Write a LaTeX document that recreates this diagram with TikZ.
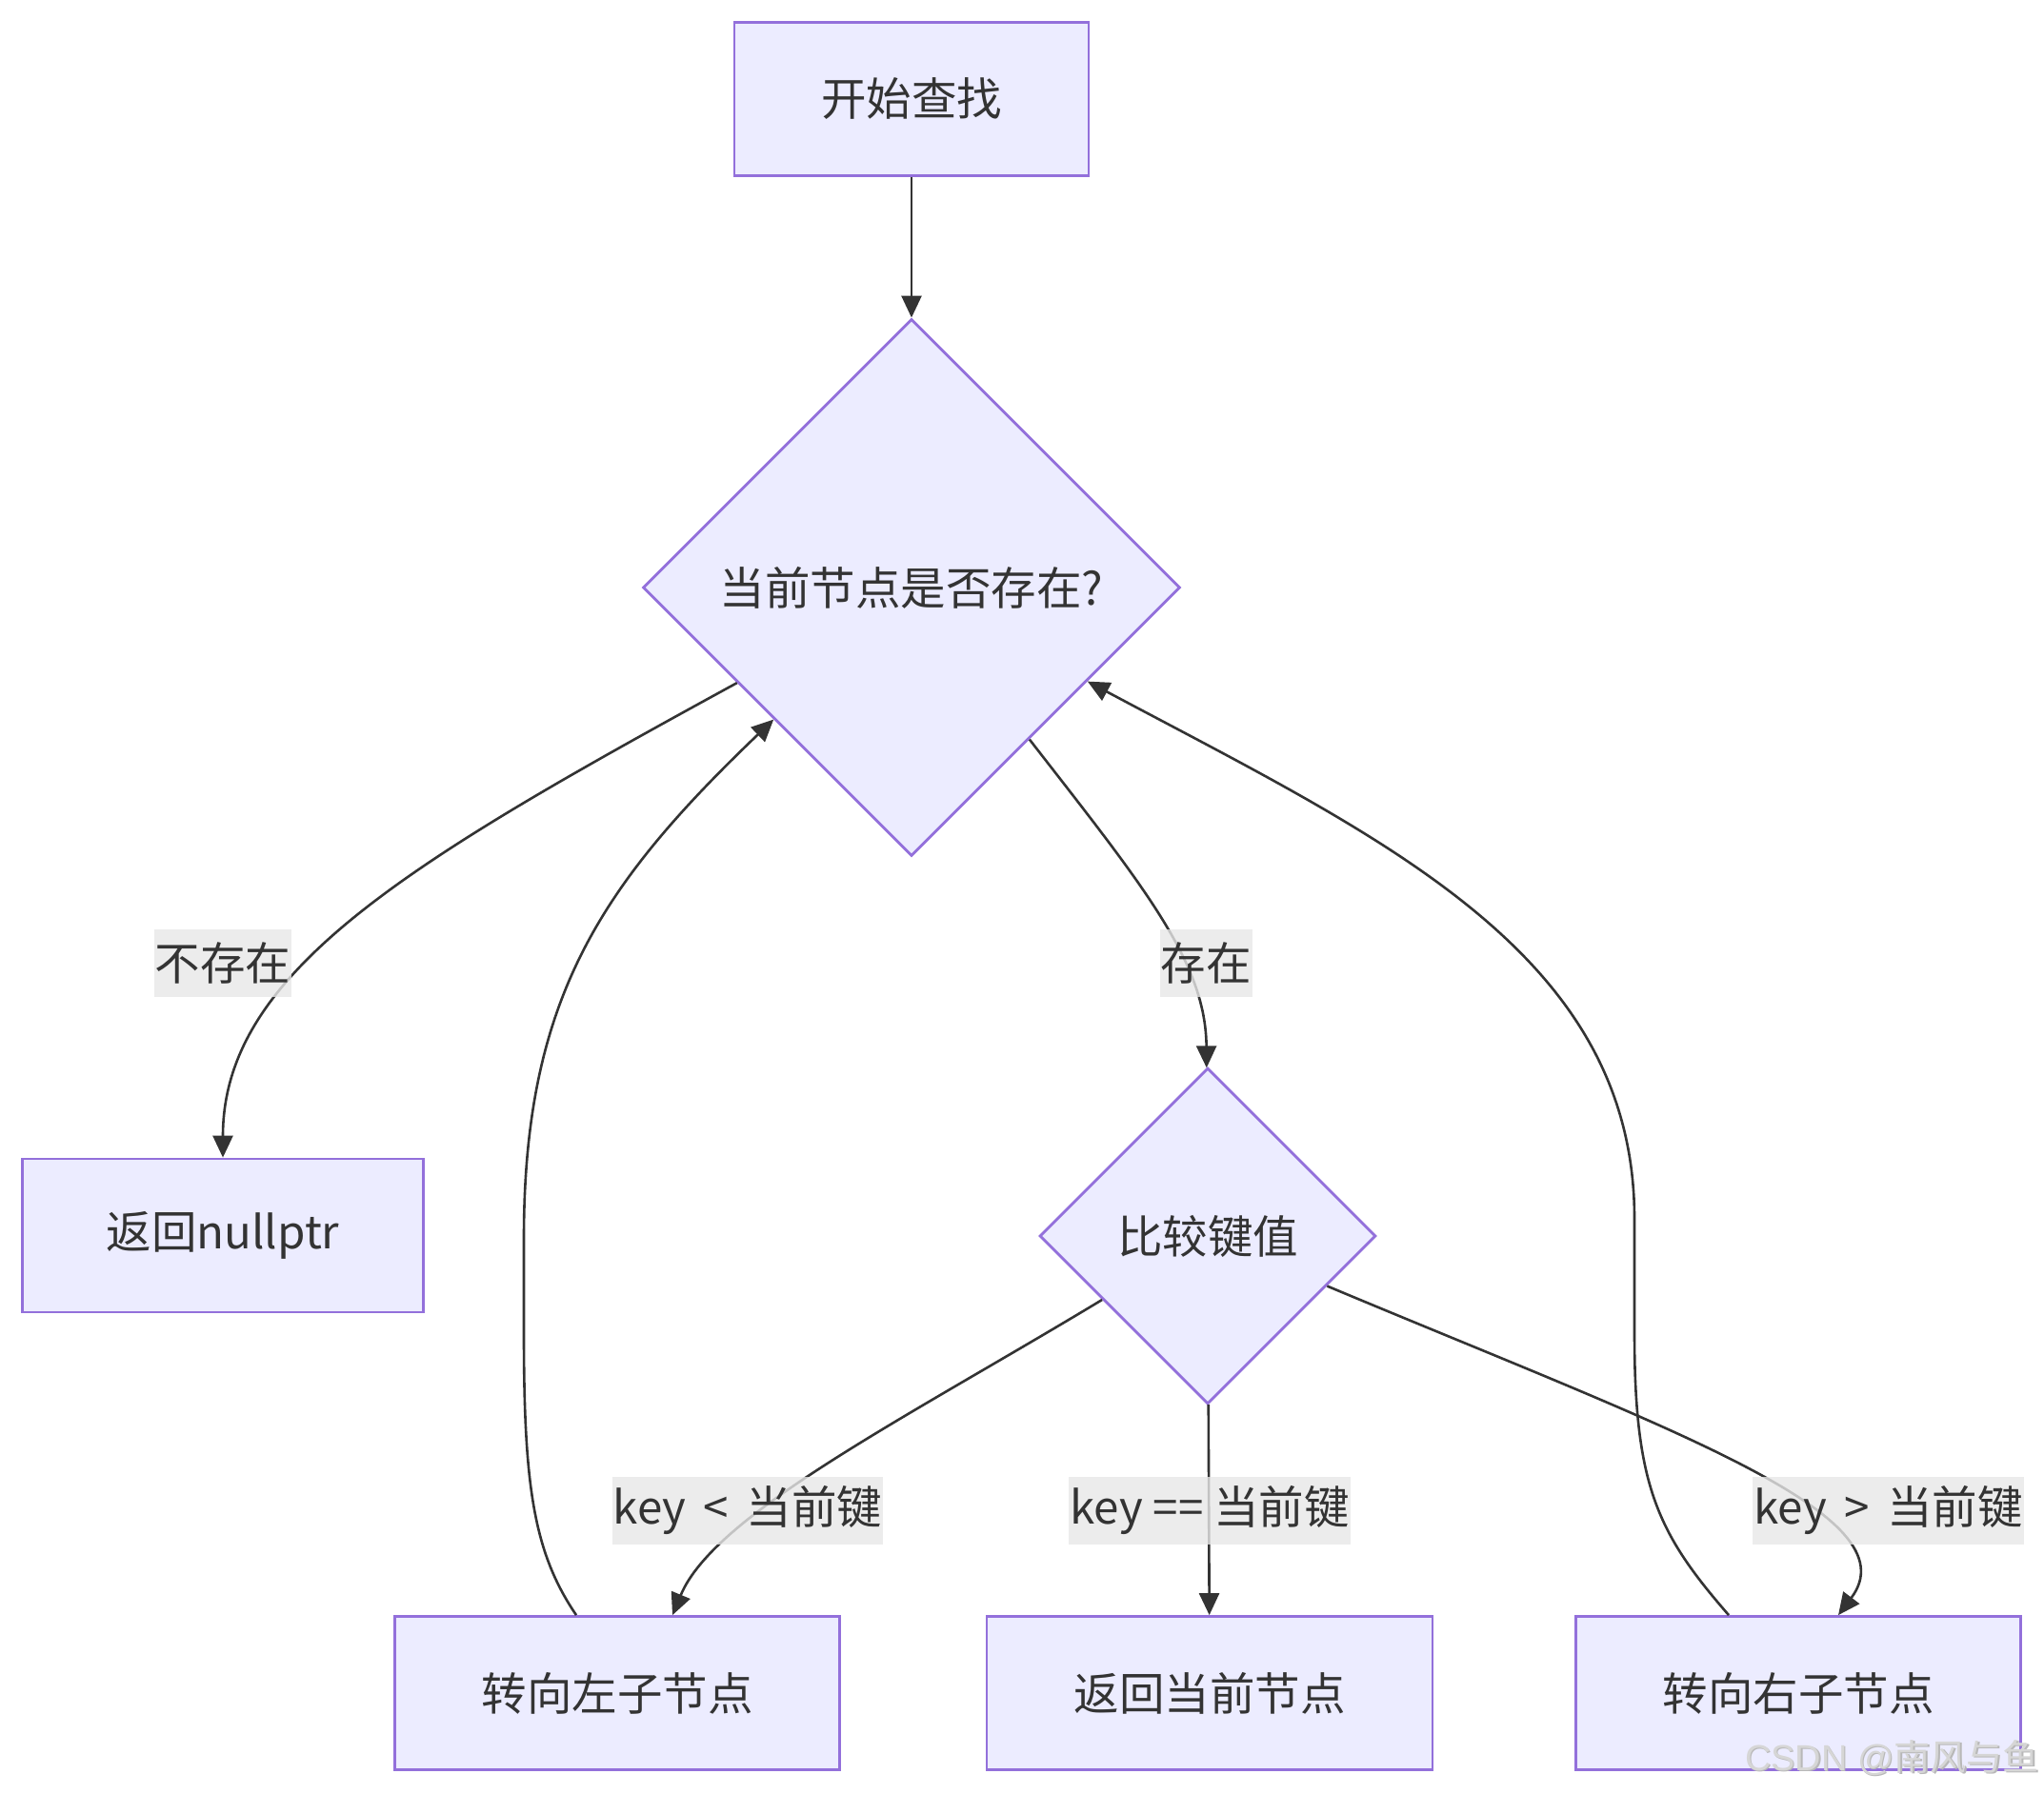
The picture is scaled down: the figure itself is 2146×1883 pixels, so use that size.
\documentclass[tikz,border=0pt]{standalone}
\usepackage{fontspec}
\setmainfont{Noto Sans CJK SC}
\newfontfamily\wmlatin{Liberation Sans}
\usetikzlibrary{shapes.geometric,arrows.meta,calc}
\definecolor{nodefill}{HTML}{ECECFF}
\definecolor{nodeline}{HTML}{9370DB}
\definecolor{edgecol}{HTML}{333333}
\definecolor{lblbg}{HTML}{E8E8E8}
\definecolor{wmcol}{HTML}{D6D6D6}
\definecolor{wmshadow}{HTML}{B8B8B8}
\begin{document}
\begin{tikzpicture}[x=1pt,y=-1pt,
  font=\fontsize{47.5}{57}\selectfont, text=edgecol,
  box/.style={draw=nodeline, fill=nodefill, line width=2.8pt, minimum height=161pt, inner sep=0pt},
  dia/.style={diamond, aspect=1, draw=nodeline, fill=nodefill, line width=2.8pt, inner sep=0pt},
  flow/.style={draw=edgecol, line width=2.6pt, -{Triangle[length=23pt,width=21pt]}},
  lbl/.style={fill=lblbg, fill opacity=0.8, text opacity=1, inner xsep=1pt, inner ysep=0pt, minimum height=71pt},
  wmtext/.style={anchor=east, font=\fontsize{38}{40}\selectfont, inner sep=0pt}]
\useasboundingbox (0,0) rectangle (2146,1883);
\fill[white] (0,0) rectangle (2146,1883);

% nodes
\node[box, minimum width=372pt] (start) at (957,104) {开始查找};
\node[dia, minimum width=564pt, minimum height=564pt] (d1) at (957,617) {当前节点是否存在?};
\node[box, minimum width=421pt] (nul) at (234,1297.5) {返回nullptr};
\node[dia, minimum width=353pt, minimum height=353pt] (d2) at (1268,1298) {比较键值};
\node[box, minimum width=467pt] (lbox) at (648,1778) {转向左子节点};
\node[box, minimum width=468pt] (mbox) at (1270,1778) {返回当前节点};
\node[box, minimum width=467pt] (rbox) at (1888,1778) {转向右子节点};

% connectors
\draw[flow] (start) -- (d1);
\draw[flow] (d1) .. controls (430,905) and (234,1020) .. (nul);
\draw[flow] (d1) .. controls (1200,930) and (1266,1010) .. (d2);
\draw[flow] (d2) .. controls (950,1490) and (750,1590) .. ($(lbox.north)+(58,0)$);
\draw[flow] (d2) -- (mbox);
\draw[flow] (d2) .. controls (1750,1500) and (2010,1590) .. ($(rbox.north)+(42,0)$);
\draw[flow] ($(lbox.north)+(-43,0)$) .. controls (560,1630) and (550,1560) .. (550,1400)
  -- (550,1300) .. controls (550,1050) and (630,930) .. (d1);
\draw[flow] ($(rbox.north)+(-73,0)$) .. controls (1740,1610) and (1716,1560) .. (1716,1400)
  -- (1716,1280) .. controls (1716,1000) and (1450,880) .. (d1);

% edge labels
\node[lbl] (l1) at (234,1011) {不存在};
\node[lbl] (l2) at (1266,1011) {存在};
\node[lbl] (l3) at (785,1586) {key\, <\, 当前键};
\node[lbl] (l4) at (1270,1586) {key == 当前键};
\node[lbl] (l5) at (1982.5,1586) {key\, >\, 当前键};

% watermark
\node[wmtext, text=wmshadow] (wms) at (2142.5,1847.5) {{\wmlatin CSDN @}南风与鱼};
\node[wmtext, text=wmcol] (wm) at (2141,1846) {{\wmlatin CSDN @}南风与鱼};
\end{tikzpicture}
\end{document}
